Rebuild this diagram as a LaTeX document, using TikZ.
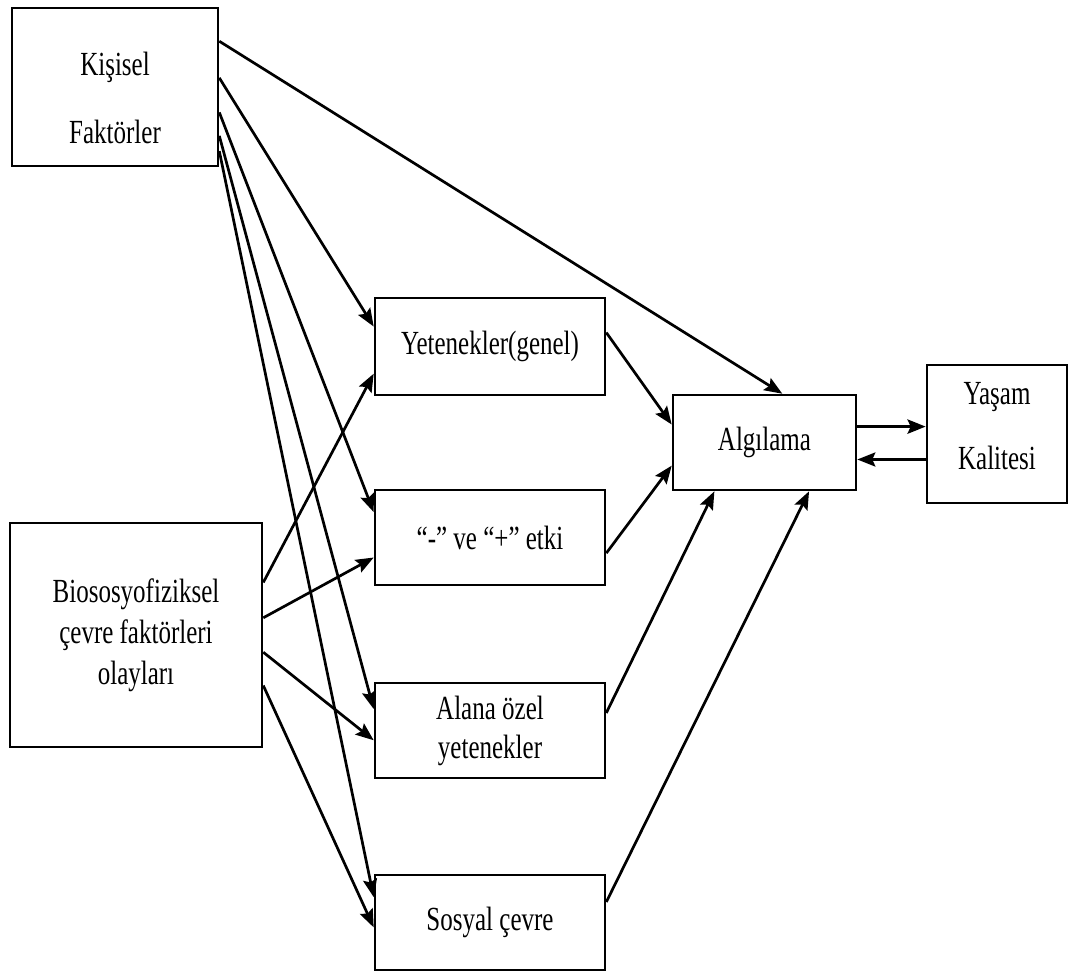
\documentclass[tikz,border=0pt]{standalone}
\usepackage{fontspec}
\setmainfont{Liberation Serif}
\usetikzlibrary{calc,arrows.meta}
% tall, narrow lettering
\newcommand\vst[1]{\scalebox{1}[1.35]{#1}}

\begin{document}
\begin{tikzpicture}[x=0.5pt,y=-0.5pt,
  box/.style={draw, line width=1.3pt, inner sep=0pt, align=center,
              font=\fontsize{12.5}{20.5}\selectfont},
  lbl/.style={inner sep=0pt, font=\fontsize{12.5}{20.5}\selectfont},
  link/.style={line width=1.35pt, -{Stealth[length=9pt,width=7pt,inset=1.5pt]}},
  ]
\useasboundingbox (0,0) rectangle (1069,974);

% boxes
\node[box, minimum width=103pt, minimum height=79pt] (K) at (115,87) {};
\node[lbl] (tK1) at (115,67) {\vst{Kişisel}};
\node[lbl] (tK2) at (115,132) {\vst{Faktörler}};

\node[box, minimum width=126pt, minimum height=112pt] (B) at (136,635)
  {\vst{Biososyofiziksel}\\\vst{çevre faktörleri}\\\vst{olayları}};

\node[box, minimum width=115pt, minimum height=48.5pt] (Y) at (490,346.5)
  {\vst{Yetenekler(genel)}};
\node[box, minimum width=115pt, minimum height=47.5pt] (E) at (490,537.5)
  {\vst{“-” ve “+” etki}};
\node[box, minimum width=115pt, minimum height=47.5pt] (S1) at (490,730.5)
  {\vst{Alana özel}\\[-1pt]\vst{yetenekler}};
\node[box, minimum width=115pt, minimum height=47.5pt] (S2) at (490,922.5)
  {\vst{Sosyal çevre}};

\node[box, minimum width=91.5pt, minimum height=47.5pt] (A) at (764.5,442.5)
  {\vst{Algılama}};

\node[box, minimum width=70pt, minimum height=69pt] (Q) at (997,434) {};
\node[lbl] (tQ1) at (997,397) {\vst{Yaşam}};
\node[lbl] (tQ2) at (997,458) {\vst{Kalitesi}};

% from Kişisel Faktörler
\draw[link] ($(K.north east)!0.215!(K.south east)$) -- ($(A.north west)!0.596!(A.north east)$);
\draw[link] ($(K.north east)!0.443!(K.south east)$) -- ($(Y.north west)!0.30!(Y.south west)$);
\draw[link] ($(K.north east)!0.658!(K.south east)$) -- ($(E.north west)!0.24!(E.south west)$);
\draw[link] ($(K.north east)!0.804!(K.south east)$) -- ($(S1.north west)!0.28!(S1.south west)$);
\draw[link] ($(K.north east)!0.899!(K.south east)$) -- ($(S2.north west)!0.24!(S2.south west)$);

% from Biososyofiziksel çevre faktörleri olayları
\draw[link] ($(B.north east)!0.268!(B.south east)$) -- ($(Y.north west)!0.773!(Y.south west)$);
\draw[link] ($(B.north east)!0.424!(B.south east)$) -- ($(E.north west)!0.705!(E.south west)$);
\draw[link] ($(B.north east)!0.576!(B.south east)$) -- ($(S1.north west)!0.60!(S1.south west)$);
\draw[link] ($(B.north east)!0.723!(B.south east)$) -- ($(S2.north west)!0.55!(S2.south west)$);

% into Algılama
\draw[link] ($(Y.north east)!0.36!(Y.south east)$) -- ($(A.north west)!0.316!(A.south west)$);
\draw[link] ($(E.north east)!0.66!(E.south east)$) -- ($(A.north west)!0.737!(A.south west)$);
\draw[link] ($(S1.north east)!0.32!(S1.south east)$) -- ($(A.south west)!0.23!(A.south east)$);
\draw[link] ($(S2.north east)!0.29!(S2.south east)$) -- ($(A.south west)!0.74!(A.south east)$);

% Algılama <-> Yaşam Kalitesi
\coordinate (a1) at ($(A.north east)!0.337!(A.south east)$);
\coordinate (a2) at ($(A.north east)!0.674!(A.south east)$);
\draw[link, line width=1.8pt] (a1) -- (a1 -| Q.west);
\draw[link] (a2 -| Q.west) -- (a2);
\end{tikzpicture}
\end{document}
